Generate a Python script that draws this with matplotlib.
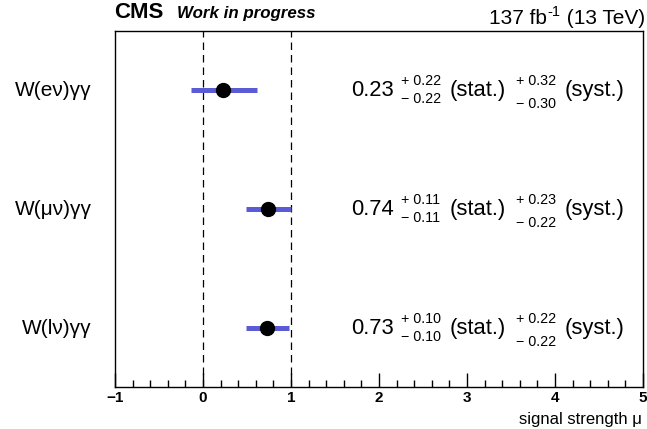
import matplotlib
matplotlib.use('Agg')
import matplotlib.pyplot as plt
from matplotlib.ticker import MultipleLocator

plt.rcParams['font.family'] = ['Liberation Sans', 'DejaVu Sans']

# Fit results
channels = ['W(eν)γγ', 'W(μν)γγ', 'W(lν)γγ']
mu = [0.23, 0.74, 0.73]
stat_up = [0.22, 0.11, 0.10]
stat_dn = [0.22, 0.11, 0.10]
syst_up = [0.32, 0.23, 0.22]
syst_dn = [0.30, 0.22, 0.22]
xticks = [-1, 0, 1, 2, 3, 4, 5]

W, H = 647, 429
fig = plt.figure(figsize=(W / 100, H / 100), dpi=100)
# frame in pixels: left 115, right 643, top 31, bottom 387
ax = fig.add_axes([115 / W, 1 - 387 / H, 528 / W, 356 / H])

n = len(channels)
ypos = [n - 1 - i for i in range(n)]
for i in range(n):
    up = (stat_up[i]**2 + syst_up[i]**2) ** 0.5
    dn = (stat_dn[i]**2 + syst_dn[i]**2) ** 0.5
    ax.plot([mu[i] - dn, mu[i] + up], [ypos[i], ypos[i]], color='#5b5bd6',
            lw=3.6, solid_capstyle='butt', zorder=2)
    ax.plot(mu[i], ypos[i], 'o', color='black', ms=10, zorder=3)

for xv in (0, 1):
    ax.axvline(xv, color='black', lw=0.9, ls=(0, (6, 4)), zorder=1)

ax.set_xlim(-1, 5)
ax.set_ylim(-0.5, 2.5)
ax.set_yticks([])
ax.set_xticks(xticks)
ax.set_xticklabels([str(t).replace('-', '−') for t in xticks],
                   fontweight='bold')
ax.xaxis.set_minor_locator(MultipleLocator(0.2))
ax.tick_params(axis='x', which='major', direction='in', length=10, width=1,
               labelsize=11, pad=3)
ax.tick_params(axis='x', which='minor', direction='in', length=5, width=1)
for s in ax.spines.values():
    s.set_linewidth(1)

rend = fig.canvas.get_renderer()


def px(x, y, s, size, **kw):
    # place text with pixel coordinates measured from top-left
    return fig.text(x / W, 1 - y / H, s, fontsize=size, **kw)


def width(t):
    return t.get_window_extent(rend).width


px(642, 424, 'signal strength μ', 12, ha='right', va='baseline')

# header
px(114, 18, 'CMS', 16, fontweight='bold', va='baseline')
px(177, 18, 'Work in progress', 12.2, fontweight='bold', style='italic',
   va='baseline')
# luminosity label, laid out right to left
xr = 645
t = px(xr, 24, ' (13 TeV)', 15, ha='right', va='baseline')
xr -= width(t)
t = px(xr, 16, '-1', 10.5, ha='right', va='baseline')
xr -= width(t) + 1
px(xr, 24, '137 fb', 15, ha='right', va='baseline')

# left labels and result strings
big, small = 15.8, 10.3
for i in range(n):
    yy = H - ax.transData.transform((0, ypos[i]))[1]
    px(92, yy + 6, channels[i], 15, ha='right', va='baseline')
    px(351, yy + 6, '%.2f' % mu[i], big, va='baseline')
    px(401, yy - 5, '+ %.2f' % stat_up[i], small, va='baseline')
    px(401, yy + 13, '− %.2f' % stat_dn[i], small, va='baseline')
    px(450, yy + 6, '(stat.)', big, va='baseline')
    px(516, yy - 5, '+ %.2f' % syst_up[i], small, va='baseline')
    px(516, yy + 18, '− %.2f' % syst_dn[i], small, va='baseline')
    px(565, yy + 6, '(syst.)', big, va='baseline')

fig.savefig('out.png', dpi=100)
